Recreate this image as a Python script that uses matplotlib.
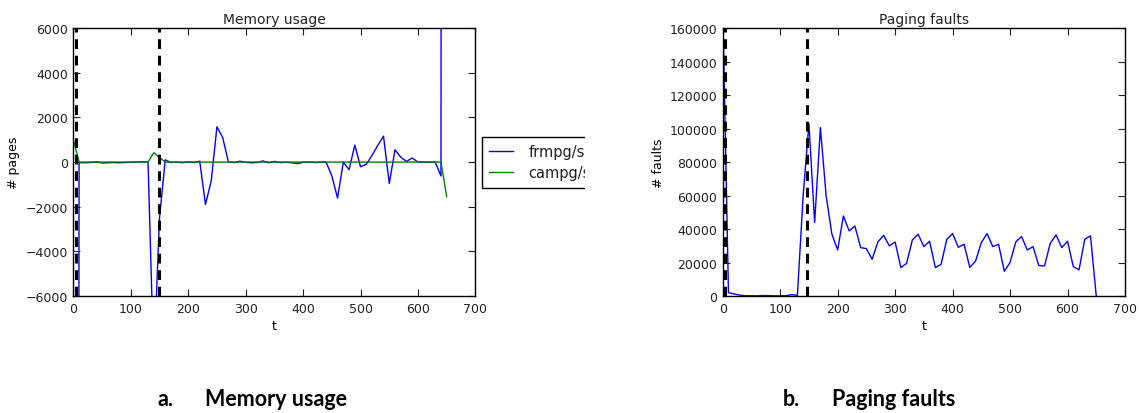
import matplotlib
matplotlib.use("Agg")
import matplotlib.pyplot as plt
from matplotlib.patches import Rectangle

# time axis (sample every 10 s)
t = list(range(0, 660, 10))

# memory usage: frmpg/s and campg/s
frmpg = [
    -200000, -20, -30, -20, 10, -40, -30, -20, -30, -20,
    -10, 0, 20, 0, -9000, -2500, 100, -20, 0, -30,
    10, -20, 40, -1900, -850, 1580, 1100, 0, -20, 40,
    -10, -30, -20, 50, -30, 30, -20, -10, -30, -70,
    -10, 0, -20, -10, 0, -620, -1610, 0, -340, 760,
    -210, -100, 300, 750, 1160, -960, 550, 220, 30, 180,
    0, 0, 0, 0, -620, 300000,
]
campg = [1000, 0, 0, 0, 0, 0, 0, 0, 0, 0,
         0, 0, 0, 0, 420, 210, 0, 0, 0, 0,
         0, 0, 0, 0, 0, 0, 0, 0, 0, 0,
         0, 0, 0, 0, 0, 0, 0, 0, 0, 0,
         0, 0, 0, 0, 0, 0, 0, 0, 0, 0,
         0, 0, 0, 0, 0, 0, 0, 0, 0, 0,
         0, 0, 0, 0, 0, -1550]

# paging faults
faults = [
    175000, 2000, 1200, 500, 200, 150, 100, 300, 250, 100,
    100, 200, 800, 400, 60000, 103000, 43900, 100600, 59800, 36900,
    27500, 47800, 38900, 41800, 28900, 28300, 21900, 32300, 36300, 29900,
    32300, 17000, 19500, 33500, 36900, 29500, 32700, 17000, 18900, 33900,
    37300, 29100, 30900, 17000, 20900, 31900, 37300, 29500, 30900, 14800,
    20000, 32300, 35500, 27500, 29500, 18200, 18000, 31500, 36500, 28900,
    32700, 17600, 15600, 33900, 35900, 0,
]

# phase markers (dashed lines)
marks_mem = [4, 149]
marks_flt = [4, 147]

plt.rcParams.update({
    "font.family": "DejaVu Sans",
    "xtick.direction": "in",
    "ytick.direction": "in",
    "xtick.top": True,
    "ytick.right": True,
    "xtick.major.size": 5,
    "ytick.major.size": 5,
    "xtick.major.pad": 4,
    "ytick.major.pad": 4,
    "xtick.labelsize": 9,
    "ytick.labelsize": 9,
    "axes.linewidth": 1.0,
    "axes.unicode_minus": True,
    "text.color": "#222222",
    "xtick.color": "#222222",
    "ytick.color": "#222222",
})

fig = plt.figure(figsize=(11.39, 4.14), dpi=100)
ax1 = fig.add_axes([0.0644, 0.2826, 0.353, 0.647])
ax2 = fig.add_axes([0.6345, 0.2826, 0.3532, 0.647])

# memory usage
ax1.plot(t, frmpg, color="#0000ff", lw=1.0, label="frmpg/s")
ax1.plot(t, campg, color="#008000", lw=1.0, label="campg/s")
for m in marks_mem:
    ax1.axvline(m, color="black", lw=2.2, linestyle=(0, (3.2, 2.2)))
ax1.set_xlim(0, 700)
ax1.set_ylim(-6000, 6000)
ax1.set_title("Memory usage", fontsize=10, pad=4)
ax1.set_xlabel("t", fontsize=9)
ax1.set_ylabel("# pages", fontsize=9)
ax1.xaxis.set_label_coords(0.5, -0.085)
ax1.yaxis.set_label_coords(-0.133, 0.5)
ax1.legend(loc="center left", bbox_to_anchor=(0.998, 0.5), fontsize=10.5,
           fancybox=False, framealpha=1, edgecolor="black",
           handlelength=1.6, handletextpad=1.1, borderpad=0.5,
           labelspacing=0.45)

# paging faults
ax2.plot(t, faults, color="#0000ff", lw=1.0)
for m in marks_flt:
    ax2.axvline(m, color="black", lw=2.2, linestyle=(0, (3.2, 2.2)))
ax2.set_xlim(0, 700)
ax2.set_ylim(0, 160000)
ax2.set_title("Paging faults", fontsize=10, pad=4)
ax2.set_xlabel("t", fontsize=9)
ax2.set_ylabel("# faults", fontsize=9)
ax2.xaxis.set_label_coords(0.5, -0.085)
ax2.yaxis.set_label_coords(-0.143, 0.5)

# the original legend was cut off at the panel border
fig.patches.append(Rectangle((585 / 1139, 0.45), 50 / 1139, 0.25,
                             transform=fig.transFigure, facecolor="white",
                             edgecolor="none", zorder=10))

# captions under the panels
cap = dict(fontsize=15.5, fontweight="bold", family="Lato", color="black",
           va="center")
fig.text(158 / 1139, 0.034, "a.", **cap)
fig.text(205 / 1139, 0.034, "Memory usage", **cap)
fig.text(783 / 1139, 0.034, "b.", **cap)
fig.text(832 / 1139, 0.034, "Paging faults", **cap)

fig.savefig("out.png", dpi=100)
